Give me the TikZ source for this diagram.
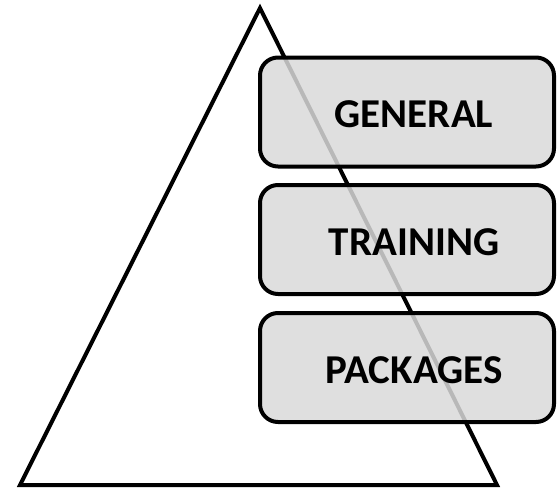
\documentclass[tikz,border=0pt]{standalone}
\usepackage{fontspec}
\setmainfont{Carlito}
\begin{document}
\begin{tikzpicture}[x=1pt,y=-1pt,
  tri/.style={line width=4pt, draw=black},
  layerbox/.style={draw=black, line width=4pt, rounded corners=18pt, fill=black!15, fill opacity=0.85,
    minimum width=294pt, minimum height=109pt, inner sep=0pt},
  layertext/.style={anchor=base, inner sep=0pt, font=\bfseries\fontsize{41}{41}\selectfont}]
\useasboundingbox (0,0) rectangle (558,488);
\coordinate (apex) at (260,8);
\coordinate (bl) at (20,485);
\coordinate (br) at (497,485);
\draw[tri] (bl) -- (apex) -- (br) -- cycle;
\node[layerbox] (gen) at (407,112) {};
\node[layerbox] (tra) at (407,239.5) {};
\node[layerbox] (pac) at (407,367.5) {};
\node[layertext] (genl) at (414,127.5) {GENERAL};
\node[layertext] (tral) at (414,255) {TRAINING};
\node[layertext] (pacl) at (414,383) {PACKAGES};
\end{tikzpicture}
\end{document}
